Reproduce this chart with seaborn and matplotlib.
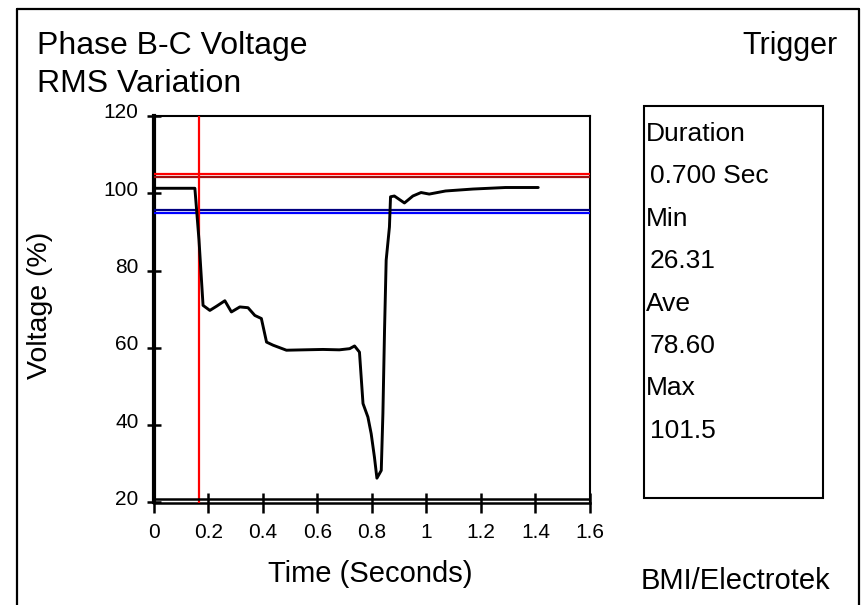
import matplotlib
matplotlib.use("Agg")
import matplotlib.pyplot as plt
from matplotlib.lines import Line2D
from matplotlib.transforms import ScaledTranslation
import seaborn as sns
import pandas as pd

# ---- data ----
time_s = [0.0, 0.150, 0.165, 0.180, 0.205, 0.230, 0.260, 0.284, 0.315, 0.345, 0.370,
          0.394, 0.413, 0.437, 0.486, 0.55, 0.62, 0.68, 0.718, 0.736, 0.754, 0.767,
          0.785, 0.797, 0.809, 0.818, 0.834, 0.840, 0.846, 0.852, 0.864, 0.868,
          0.882, 0.919, 0.950, 0.980, 1.010, 1.070, 1.170, 1.290, 1.410]
voltage_pct = [101.3, 101.3, 88.0, 71.0, 69.7, 70.8, 72.2, 69.3, 70.6, 70.4, 68.4,
               67.6, 61.5, 60.7, 59.4, 59.5, 59.6, 59.5, 59.8, 60.5, 58.9, 45.6,
               42.1, 37.8, 31.7, 26.3, 28.3, 43.0, 64.6, 82.7, 91.3, 99.1,
               99.3, 97.5, 99.3, 100.2, 99.8, 100.6, 101.1, 101.5, 101.5]

upper_limits = [105.0, 104.1]
upper_colors = ["#ff0000", "#a01010"]
lower_limits = [95.8, 95.0]
lower_colors = ["#000080", "#0000ff"]
trigger_time = 0.165

x_ticks = [0, 0.2, 0.4, 0.6, 0.8, 1.0, 1.2, 1.4, 1.6]
x_tick_labels = ["0", "0.2", "0.4", "0.6", "0.8", "1", "1.2", "1.4", "1.6"]
y_ticks = [20, 40, 60, 80, 100, 120]

panel_labels = ["Duration", "Min", "Ave", "Max"]
panel_values = ["0.700 Sec", "26.31", "78.60", "101.5"]

title_lines = ["Phase B-C Voltage", "RMS Variation"]

# ---- style ----
sns.set_style("white")
plt.rcParams["font.family"] = ["Liberation Sans", "DejaVu Sans"]
plt.rcParams["text.color"] = "black"
plt.rcParams["axes.labelcolor"] = "black"
plt.rcParams["xtick.color"] = "black"
plt.rcParams["ytick.color"] = "black"

W, H = 862, 605
fig = plt.figure(figsize=(W / 100, H / 100), dpi=100)
ax = fig.add_axes([154 / W, 1 - 502.5 / H, (590 - 154) / W, (502.5 - 116) / H])

df = pd.DataFrame({"t": time_s, "v": voltage_pct})
sns.lineplot(data=df, x="t", y="v", ax=ax, color="black", lw=2.1, sort=False,
             estimator=None, zorder=5)

for yv, c in zip(upper_limits, upper_colors):
    ax.axhline(yv, color=c, lw=1.6, zorder=3)
for yv, c in zip(lower_limits, lower_colors):
    ax.axhline(yv, color=c, lw=1.6, zorder=3)
ax.axvline(trigger_time, color="#ff0000", lw=1.6, zorder=4)
ax.axhline(20.9, color="black", lw=1.8, zorder=6)

ax.set_xlim(0, 1.6)
ax.set_ylim(20, 120)
ax.set_xticks(x_ticks)
ax.set_xticklabels(x_tick_labels)
ax.set_yticks(y_ticks)
ax.tick_params(axis="both", bottom=True, left=True, direction="inout",
               width=1.8, labelsize=15, colors="black")
ax.tick_params(axis="x", length=14, pad=8)
ax.tick_params(axis="y", length=10, pad=6)
for lbl in ax.get_yticklabels():
    lbl.set_transform(lbl.get_transform() + ScaledTranslation(0, 5 / 100, fig.dpi_scale_trans))

for side in ["top", "right"]:
    ax.spines[side].set_linewidth(1.5)
    ax.spines[side].set_color("black")
ax.spines["left"].set_linewidth(3.0)
ax.spines["bottom"].set_linewidth(1.8)
ax.spines["left"].set_color("black")
ax.spines["bottom"].set_color("black")

ax.set_xlabel("Time (Seconds)", fontsize=21, va="baseline")
ax.xaxis.set_label_coords((370.5 - 154) / 436, (502.5 - 582) / 386.5)
ax.set_ylabel("Voltage (%)", fontsize=20.5, va="center")
ax.yaxis.set_label_coords((40 - 154) / 436, (502.5 - 305.5) / 386.5)

# ---- figure texts ----
fig.text(37 / W, 1 - 54 / H, title_lines[0], fontsize=23, ha="left", va="baseline")
fig.text(37 / W, 1 - 92 / H, title_lines[1], fontsize=23, ha="left", va="baseline")
fig.text(838 / W, 1 - 54 / H, "Trigger", fontsize=22, ha="right", va="baseline")
fig.text(641 / W, 1 - 589 / H, "BMI/Electrotek", fontsize=21, ha="left", va="baseline")

# info panel box
box = plt.Rectangle((644 / W, 1 - 498 / H), (823 - 644) / W, (498 - 106) / H,
                    transform=fig.transFigure, fill=False, ec="black", lw=1.5)
fig.patches.append(box)
base = 141
step = 42.4
for i, (lab, val) in enumerate(zip(panel_labels, panel_values)):
    y1 = base + 2 * i * step
    y2 = base + (2 * i + 1) * step
    fig.text(646 / W, 1 - y1 / H, lab, fontsize=19, ha="left", va="baseline")
    fig.text(650 / W, 1 - y2 / H, val, fontsize=19, ha="left", va="baseline")

# outer frame
fig.add_artist(Line2D([17 / W, 17 / W], [0, 1 - 9 / H], transform=fig.transFigure, color="black", lw=1.6))
fig.add_artist(Line2D([17 / W, 859 / W], [1 - 9 / H, 1 - 9 / H], transform=fig.transFigure, color="black", lw=1.6))
fig.add_artist(Line2D([859 / W, 859 / W], [0, 1 - 9 / H], transform=fig.transFigure, color="black", lw=1.6))

fig.savefig("out.png", dpi=100, facecolor="white")
